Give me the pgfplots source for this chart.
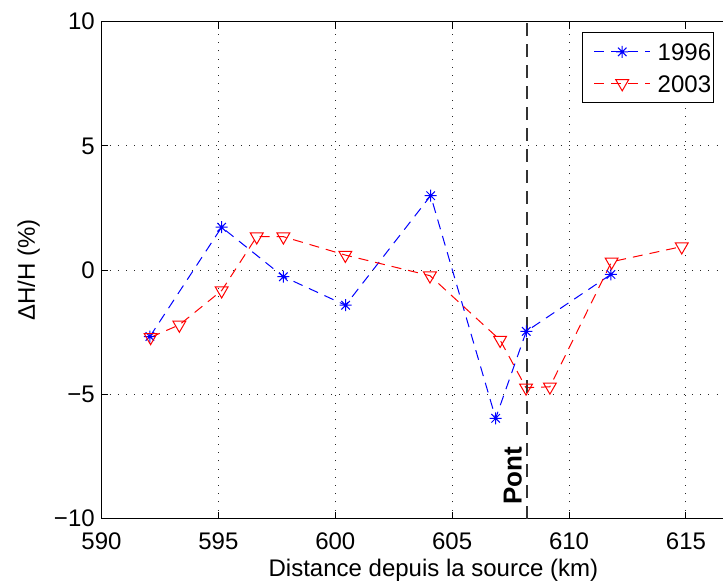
\documentclass[border=0pt]{standalone}
\usepackage{fontspec}
\setmainfont{Liberation Sans}
\usepackage{pgfplots}
\pgfplotsset{compat=1.18}
\pgfdeclareplotmark{matstar}{%
  \pgfpathmoveto{\pgfpoint{-\pgfplotmarksize}{0pt}}\pgfpathlineto{\pgfpoint{\pgfplotmarksize}{0pt}}%
  \pgfpathmoveto{\pgfpoint{0pt}{-\pgfplotmarksize}}\pgfpathlineto{\pgfpoint{0pt}{\pgfplotmarksize}}%
  \pgfpathmoveto{\pgfpoint{-0.707\pgfplotmarksize}{-0.707\pgfplotmarksize}}\pgfpathlineto{\pgfpoint{0.707\pgfplotmarksize}{0.707\pgfplotmarksize}}%
  \pgfpathmoveto{\pgfpoint{-0.707\pgfplotmarksize}{0.707\pgfplotmarksize}}\pgfpathlineto{\pgfpoint{0.707\pgfplotmarksize}{-0.707\pgfplotmarksize}}%
  \pgfusepathqstroke}
\begin{document}
\begin{tikzpicture}[font=\fontsize{12}{14}\selectfont]
\begin{axis}[
  scale only axis,
  width=327.3pt, height=248.5pt,
  xmin=590, xmax=618, ymin=-10, ymax=10,
  xtick={590,595,600,605,610,615},
  xticklabels={590,595,600,605,610,615},
  ytick={-10,-5,0,5,10},
  yticklabels={−10,−5,0,5,10},
  tick align=inside,
  major tick length=3.5pt,
  tick style={black, line width=0.5pt},
  axis line style={black, line width=0.5pt},
  grid=major,
  grid style={black!85, line width=0.5pt, dash pattern=on 0.5pt off 3.6pt},
  xticklabel style={anchor=base, inner sep=0pt, yshift=-15.3pt},
  yticklabel style={anchor=east, inner sep=0pt, xshift=-3.2pt},
  xlabel={Distance depuis la source (km)},
  ylabel={ΔH/H (\%)},
  xlabel style={at={(axis description cs:0.507,-0.1167)}, anchor=base, inner sep=0pt},
  ylabel style={at={(axis description cs:-0.1016,0.5)}, anchor=base, inner sep=0pt},
  legend style={at={(axis cs:616.2,9.58)}, anchor=north east, draw=black,
    line width=0.5pt, fill=white, inner xsep=1.2pt, inner ysep=5.3pt,
    row sep=7.2pt, font=\fontsize{12}{14}\selectfont,
    nodes={inner sep=0pt, text height=8.6pt, text depth=0pt},
    /tikz/every odd column/.append style={column sep=3.5pt}},
  legend cell align=left,
  legend image code/.code={%
    \path (0pt,0pt);
    \draw[mark repeat=2, mark phase=2, #1] plot coordinates {(4.2pt,0pt) (18.2pt,0pt) (32.2pt,0pt)};
  },
]
\addplot[blue, line width=0.5pt, dash pattern=on 5pt off 3.5pt,
  mark=matstar, mark size=3pt, mark options={solid}]
  coordinates {(592.07,-2.67) (595.14,1.73) (597.78,-0.26) (600.44,-1.41)
    (604.08,3.00) (606.86,-5.96) (608.17,-2.46) (611.79,-0.17)};
\addlegendentry{1996}
\addplot[red, line width=0.5pt, dash pattern=on 5pt off 3.5pt,
  mark=triangle, mark size=3.7pt, mark options={solid, rotate=180}]
  coordinates {(592.1,-2.7) (593.33,-2.20) (595.14,-0.82) (596.64,1.35)
    (597.78,1.35) (600.43,0.61) (604.05,-0.22) (607.05,-2.81)
    (608.16,-4.73) (609.18,-4.69) (611.82,0.34) (614.82,0.95)};
\addlegendentry{2003}
\addplot[black!80, line width=0.6pt, dash pattern=on 6.5pt off 4pt, forget plot]
  coordinates {(608.2,-10) (608.2,10)};
\node[rotate=90, anchor=base west, inner sep=0pt, font=\fontsize{13}{15}\selectfont\bfseries]
  at ([xshift=-2.65pt]axis cs:608.2,-9.44) {Pont};
\coordinate (ll) at (rel axis cs:0,0);
\end{axis}
\pgfresetboundingbox
\path[use as bounding box] ([xshift=-50.75pt,yshift=-33.65pt]ll) rectangle ([xshift=310.75pt,yshift=259.35pt]ll);
\end{tikzpicture}
\end{document}
